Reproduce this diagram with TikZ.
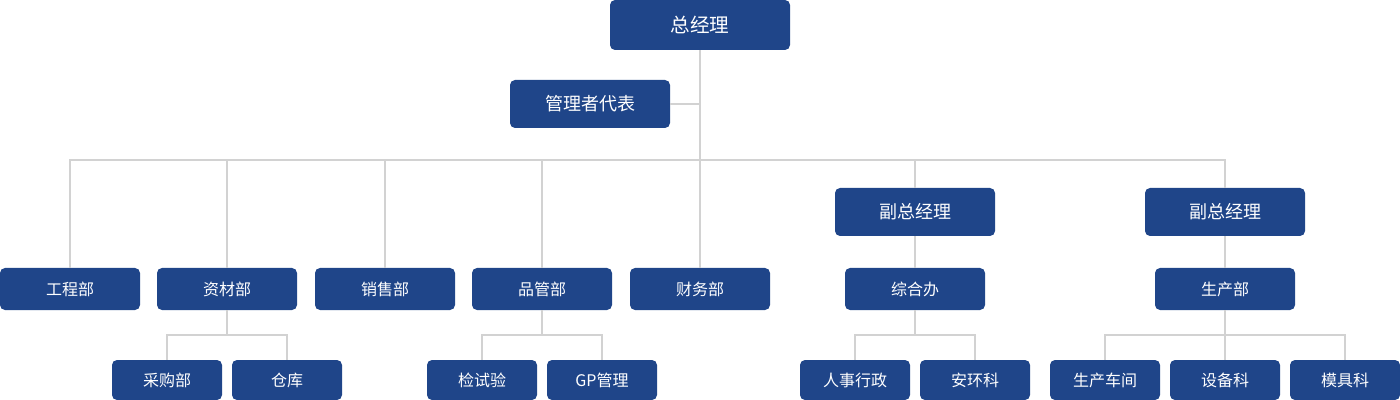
\documentclass[tikz,border=0pt]{standalone}
\usepackage{fontspec}
\newfontfamily\cjk{Noto Sans CJK SC}
\usetikzlibrary{calc,positioning}
\definecolor{orgblue}{HTML}{1F4589}
\definecolor{linegray}{HTML}{D2D2D2}
\tikzset{
  wire/.style={draw=linegray, line width=1pt},
  unit/.style={fill=orgblue, rounded corners=2.5pt, text=white, font=\cjk\fontsize{8}{9}\selectfont, inner sep=0pt},
  topbox/.style={unit, minimum width=90pt, minimum height=25pt, font=\cjk\fontsize{9.8}{11}\selectfont},
  midbox/.style={unit, minimum width=80pt, minimum height=24pt, font=\cjk\fontsize{9}{10}\selectfont},
  deptbox/.style={unit, minimum width=70pt, minimum height=21pt},
  subbox/.style={unit, minimum width=55pt, minimum height=20pt}
}
\begin{document}
\begin{tikzpicture}[x=0.5pt,y=-0.5pt]
  \useasboundingbox (0,0) rectangle (1400,400);
  % top level
  \node[topbox] (gm) at (700,25) {总经理};
  \node[midbox] (rep) at (590,104) {管理者代表};
  \coordinate (bar) at (700,160);
  % departments
  \node[deptbox] (eng) at (70,289) {工程部};
  \node[deptbox] (mat) at (227,289) {资材部};
  \node[deptbox] (sales) at (385,289) {销售部};
  \node[deptbox] (qc) at (542,289) {品管部};
  \node[deptbox] (fin) at (700,289) {财务部};
  \node[midbox] (vpa) at (915,212) {副总经理};
  \node[midbox] (vpb) at (1225,212) {副总经理};
  \node[deptbox] (adm) at (915,289) {综合办};
  \node[deptbox] (prod) at (1225,289) {生产部};
  % sections
  \node[subbox] (buy) at (167,380) {采购部};
  \node[subbox] (store) at (287,380) {仓库};
  \node[subbox] (test) at (482,380) {检试验};
  \node[subbox] (gp) at (602,380) {GP管理};
  \node[subbox] (hr) at (855,380) {人事行政};
  \node[subbox] (env) at (975,380) {安环科};
  \node[subbox] (shop) at (1105,380) {生产车间};
  \node[subbox] (equip) at (1225,380) {设备科};
  \node[subbox] (mold) at (1345,380) {模具科};

  % connectors
  \draw[wire] (gm.south) -- (fin.north);
  \draw[wire] (rep.east) -- (rep.east -| gm.south);
  \draw[wire] (eng.north) -- (eng.north |- bar) -- (vpb.north |- bar) -- (vpb.north);
  \foreach \d in {mat,sales,qc,vpa}
    \draw[wire] (\d.north) -- (\d.north |- bar);
  \draw[wire] (vpa.south) -- (adm.north);
  \draw[wire] (vpb.south) -- (prod.north);
  \foreach \p/\a/\b in {mat/buy/store,qc/test/gp,adm/hr/env,prod/shop/mold}{
    \draw[wire] (\p.south) -- ($(\p.south)+(0,25)$);
    \draw[wire] (\a.north) -- ++(0,-25) -| (\b.north);
  }
  \draw[wire] (prod.south) -- (equip.north);
\end{tikzpicture}
\end{document}
